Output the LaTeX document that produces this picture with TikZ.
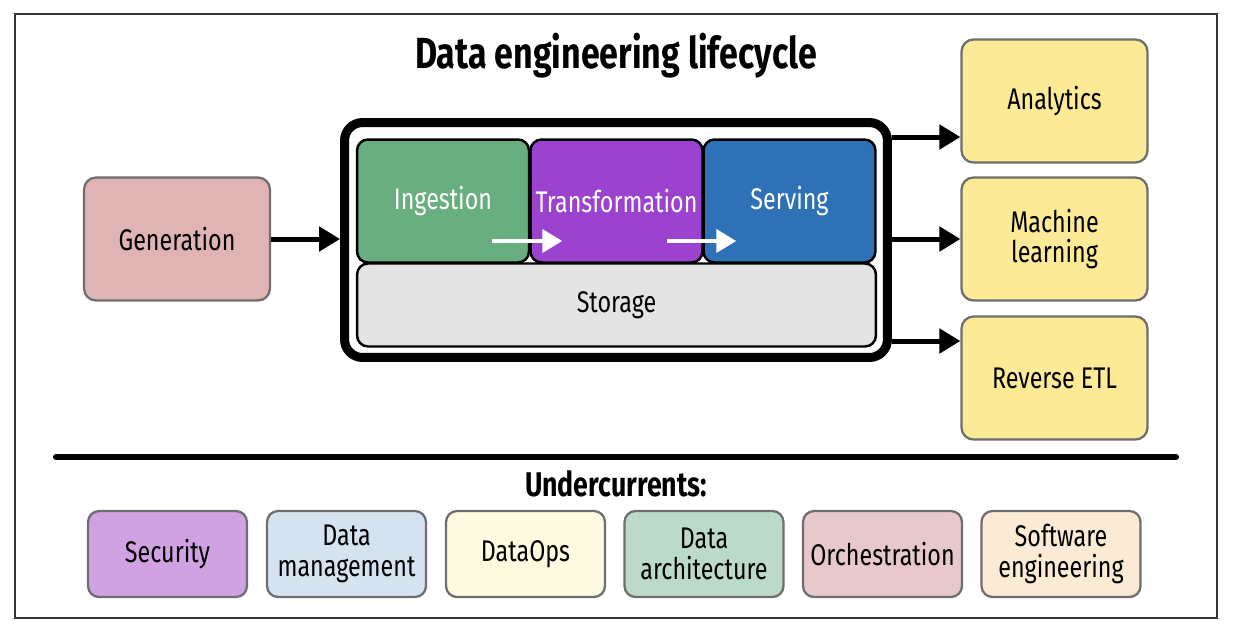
\documentclass[tikz,border=0pt]{standalone}
\usepackage{fontspec}
\setmainfont{Fira Sans}[FakeStretch=0.78]
\usetikzlibrary{arrows.meta,positioning}

\definecolor{ingestgreen}{HTML}{69AE7E}
\definecolor{transpurple}{HTML}{9B42CF}
\definecolor{serveblue}{HTML}{2E71B6}
\definecolor{storegray}{HTML}{E4E4E4}
\definecolor{genpink}{HTML}{E0B3B4}
\definecolor{outyellow}{HTML}{FCEA96}
\definecolor{edgegray}{HTML}{6E6E6E}
\definecolor{framegray}{HTML}{333333}
\definecolor{secpurple}{HTML}{D0A2E2}
\definecolor{mgmtblue}{HTML}{D5E3F0}
\definecolor{opsyellow}{HTML}{FDFAE0}
\definecolor{archgreen}{HTML}{BBDBC8}
\definecolor{orchpink}{HTML}{E8C9CB}
\definecolor{softpeach}{HTML}{FBEBD5}

\tikzset{
  every node/.style={font=\fontsize{17}{17.5}\selectfont},
  stage/.style={draw=black, line width=1.4pt, rounded corners=0.22cm,
    minimum width=3.44cm, minimum height=2.46cm, inner sep=0pt, text=white},
  endbox/.style={draw=edgegray, line width=1.3pt, rounded corners=0.24cm,
    fill=outyellow, minimum width=3.72cm, minimum height=2.46cm,
    align=center, inner sep=0pt},
  current/.style={draw=edgegray, line width=1.3pt, rounded corners=0.22cm,
    minimum width=3.18cm, minimum height=1.72cm, align=center, inner sep=0pt},
  flow/.style={-{Triangle[length=0.42cm,width=0.48cm]}, line width=0.1cm},
  inflow/.style={-{Triangle[length=0.4cm,width=0.46cm]}, line width=0.08cm, white},
}

\begin{document}
\begin{tikzpicture}[x=0.02cm, y=-0.02cm]
  \useasboundingbox (0,0) rectangle (1238,630);

  % Outer frame
  \draw[framegray, line width=0.04cm] (15,14) rectangle (1217,618);

  % Title
  \node[font=\fontsize{24.8}{27}\selectfont\bfseries] (title) at (616,56)
    {Data engineering lifecycle};

  % ====== LIFECYCLE ======
  \node[draw=black, fill=white, line width=0.18cm, rounded corners=0.36cm,
    minimum width=10.86cm, minimum height=4.70cm] (life) at (616,240) {};

  \node[stage, fill=ingestgreen] (ing) at (443,201) {Ingestion};
  \node[stage, fill=transpurple] (trans) at (616.5,201) {Transformation};
  \node[stage, fill=serveblue] (serve) at (789.5,201) {Serving};
  \node[stage, fill=storegray, text=black, minimum width=10.38cm,
    minimum height=1.66cm] (store) at (616.5,305) {Storage};

  % Flow inside the lifecycle
  \draw[inflow] ([xshift=-0.76cm,yshift=-0.8cm]ing.east)
    -- ([xshift=0.66cm,yshift=-0.8cm]trans.west);
  \draw[inflow] ([xshift=-0.74cm,yshift=-0.8cm]trans.east)
    -- ([xshift=0.68cm,yshift=-0.8cm]serve.west);

  % Source
  \node[endbox, fill=genpink] (gen) at (177,239) {Generation};
  \draw[flow] (gen.east) -- (life.west |- gen.east);

  % ====== OUTPUTS ======
  \node[endbox] (ana) at (1054.5,101) {Analytics};
  \node[endbox] (ml) at (1054.5,239) {Machine\\learning};
  \node[endbox] (retl) at (1054.5,378) {Reverse ETL};

  \coordinate (toana) at (900,137);
  \coordinate (toretl) at (900,341);
  \draw[flow] (life.east |- toana) -- (ana.west |- toana);
  \draw[flow] (life.east |- ml.west) -- (ml.west);
  \draw[flow] (life.east |- toretl) -- (retl.west |- toretl);

  % ====== UNDERCURRENTS ======
  \draw[line width=0.12cm, line cap=round] (56,457) -- (1176,457);
  \node[font=\fontsize{19.5}{21}\selectfont\bfseries] (under) at (616,484)
    {Undercurrents:};

  \foreach \x/\name/\col/\txt in {
      167.5/sec/secpurple/{Security},
      346.5/mgmt/mgmtblue/{Data\\management},
      525.5/ops/opsyellow/{DataOps},
      704/arch/archgreen/{Data\\architecture},
      882.5/orch/orchpink/{Orchestration},
      1061/soft/softpeach/{Software\\engineering}} {
    \node[current, fill=\col] (\name) at (\x,554) {\txt};
  }

\end{tikzpicture}
\end{document}
